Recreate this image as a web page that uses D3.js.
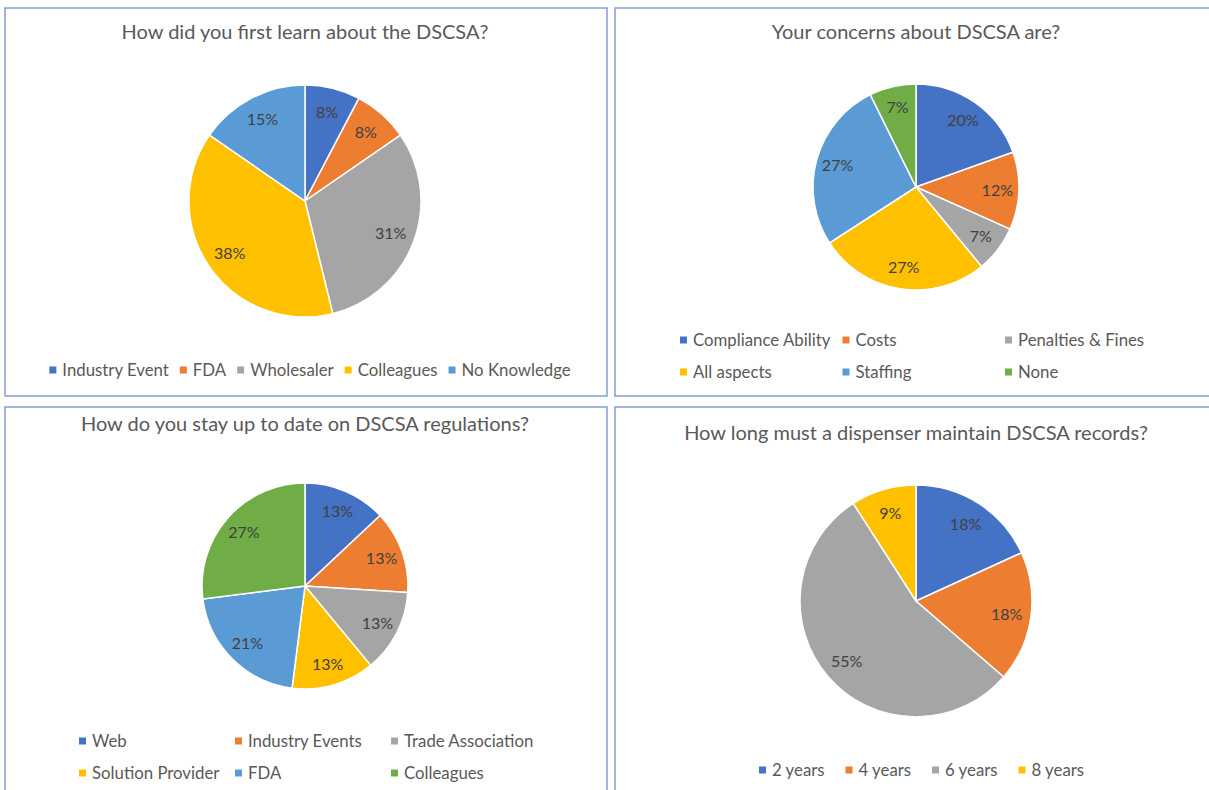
<!DOCTYPE html>
<html>
<head>
<meta charset="utf-8">
<script src="https://cdn.jsdelivr.net/npm/d3@7"></script>
<style>
  body { margin: 0; background: #fff; }
  text { font-family: Lato, "Open Sans", sans-serif; }
</style>
</head>
<body>
<div id="chart"></div>
<script>
// survey data, one set of arrays per pie
const learnLabels = ["Industry Event", "FDA", "Wholesaler", "Colleagues", "No Knowledge"];
const learnValues = [1, 1, 4, 5, 2];

const concernLabels = ["Compliance Ability", "Costs", "Penalties & Fines", "All aspects", "Staffing", "None"];
const concernValues = [8, 5, 3, 11, 11, 3];

const updateLabels = ["Web", "Industry Events", "Trade Association", "Solution Provider", "FDA", "Colleagues"];
const updateValues = [13, 13, 13, 13, 21, 27];

const recordLabels = ["2 years", "4 years", "6 years", "8 years"];
const recordValues = [2, 2, 6, 1];

const officeColors = ["#4472C4", "#ED7D31", "#A5A5A5", "#FFC000", "#5B9BD5", "#70AD47"];

const svg = d3.select("#chart").append("svg")
    .attr("width", 1209)
    .attr("height", 790);

class PieChart {

    constructor(_config, _labels, _values) {
        this.config = _config;
        this.labels = _labels;
        this.values = _values;
        this.initVis();
    }

    initVis() {
        let vis = this;
        let c = vis.config;

        vis.g = svg.append("g");

        // panel border
        vis.g.append("rect")
            .attr("x", c.box[0])
            .attr("y", c.box[1])
            .attr("width", c.box[2])
            .attr("height", c.box[3])
            .attr("fill", "#fff")
            .attr("stroke", "#7f9ed6")
            .attr("stroke-width", 1.5);

        vis.g.append("text")
            .attr("x", c.cx)
            .attr("y", c.titleY)
            .attr("dy", "0.35em")
            .attr("text-anchor", "middle")
            .attr("font-size", "20px")
            .attr("fill", "#595959")
            .text(c.title);

        vis.colorScale = d3.scaleOrdinal().domain(vis.labels).range(officeColors);

        vis.renderVis();
        vis.renderLegend();
    }

    renderVis() {
        let vis = this;
        let c = vis.config;
        let total = d3.sum(vis.values);

        let pie = d3.pie().sort(null).value(d => d.value);
        let arcs = pie(vis.labels.map((l, i) => ({label: l, value: vis.values[i]})));

        let arc = d3.arc().innerRadius(0).outerRadius(c.r);
        let labelArc = d3.arc().innerRadius(c.r * 0.79).outerRadius(c.r * 0.79);

        let pg = vis.g.append("g")
            .attr("transform", `translate(${c.cx}, ${c.cy})`);

        pg.selectAll("path")
            .data(arcs)
            .enter().append("path")
            .attr("d", arc)
            .attr("fill", d => vis.colorScale(d.data.label))
            .attr("stroke", "#fff")
            .attr("stroke-width", 1.5);

        pg.selectAll("text")
            .data(arcs)
            .enter().append("text")
            .attr("transform", d => `translate(${labelArc.centroid(d)})`)
            .attr("dy", "0.35em")
            .attr("text-anchor", "middle")
            .attr("font-size", "16px")
            .attr("fill", "#404040")
            .text(d => Math.round(d.data.value / total * 100) + "%");
    }

    renderLegend() {
        let vis = this;
        let c = vis.config;
        let lg = vis.g.append("g");

        let items = lg.selectAll("g")
            .data(vis.labels)
            .enter().append("g");

        items.append("rect")
            .attr("width", 7)
            .attr("height", 7)
            .attr("y", -3.5)
            .attr("fill", d => vis.colorScale(d));

        items.append("text")
            .attr("x", 13)
            .attr("dy", "0.35em")
            .attr("font-size", "16.8px")
            .attr("fill", "#595959")
            .text(d => d);

        if (c.legend.packed) {
            // single row, items packed by their text width
            let widths = [];
            items.each(function () {
                widths.push(13 + d3.select(this).select("text").node().getComputedTextLength());
            });
            let gap = 11;
            let totalW = d3.sum(widths) + gap * (widths.length - 1);
            let x = c.legend.center - totalW / 2;
            items.attr("transform", (d, i) => {
                let t = `translate(${x}, ${c.legend.rows[0]})`;
                x += widths[i] + gap;
                return t;
            });
        } else {
            let n = c.legend.cols;
            items.attr("transform", (d, i) =>
                `translate(${c.legend.x0 + (i % n) * c.legend.colW}, ${c.legend.rows[Math.floor(i / n)]})`);
        }
    }
}

new PieChart({
    title: "How did you first learn about the DSCSA?",
    box: [5, 8, 602, 388], cx: 305, cy: 201, r: 116, titleY: 32,
    legend: {packed: true, center: 310, rows: [370]}
}, learnLabels, learnValues);

new PieChart({
    title: "Your concerns about DSCSA are?",
    box: [615, 8, 602, 388], cx: 916, cy: 187, r: 103, titleY: 32,
    legend: {cols: 3, x0: 680, colW: 162.5, rows: [340, 372]}
}, concernLabels, concernValues);

new PieChart({
    title: "How do you stay up to date on DSCSA regulations?",
    box: [5, 407, 602, 400], cx: 305, cy: 586, r: 103, titleY: 424,
    legend: {cols: 3, x0: 79, colW: 156, rows: [741, 773]}
}, updateLabels, updateValues);

new PieChart({
    title: "How long must a dispenser maintain DSCSA records?",
    box: [615, 407, 602, 400], cx: 916, cy: 601, r: 116, titleY: 433,
    legend: {cols: 4, x0: 759, colW: 86.5, rows: [770]}
}, recordLabels, recordValues);
</script>
</body>
</html>
